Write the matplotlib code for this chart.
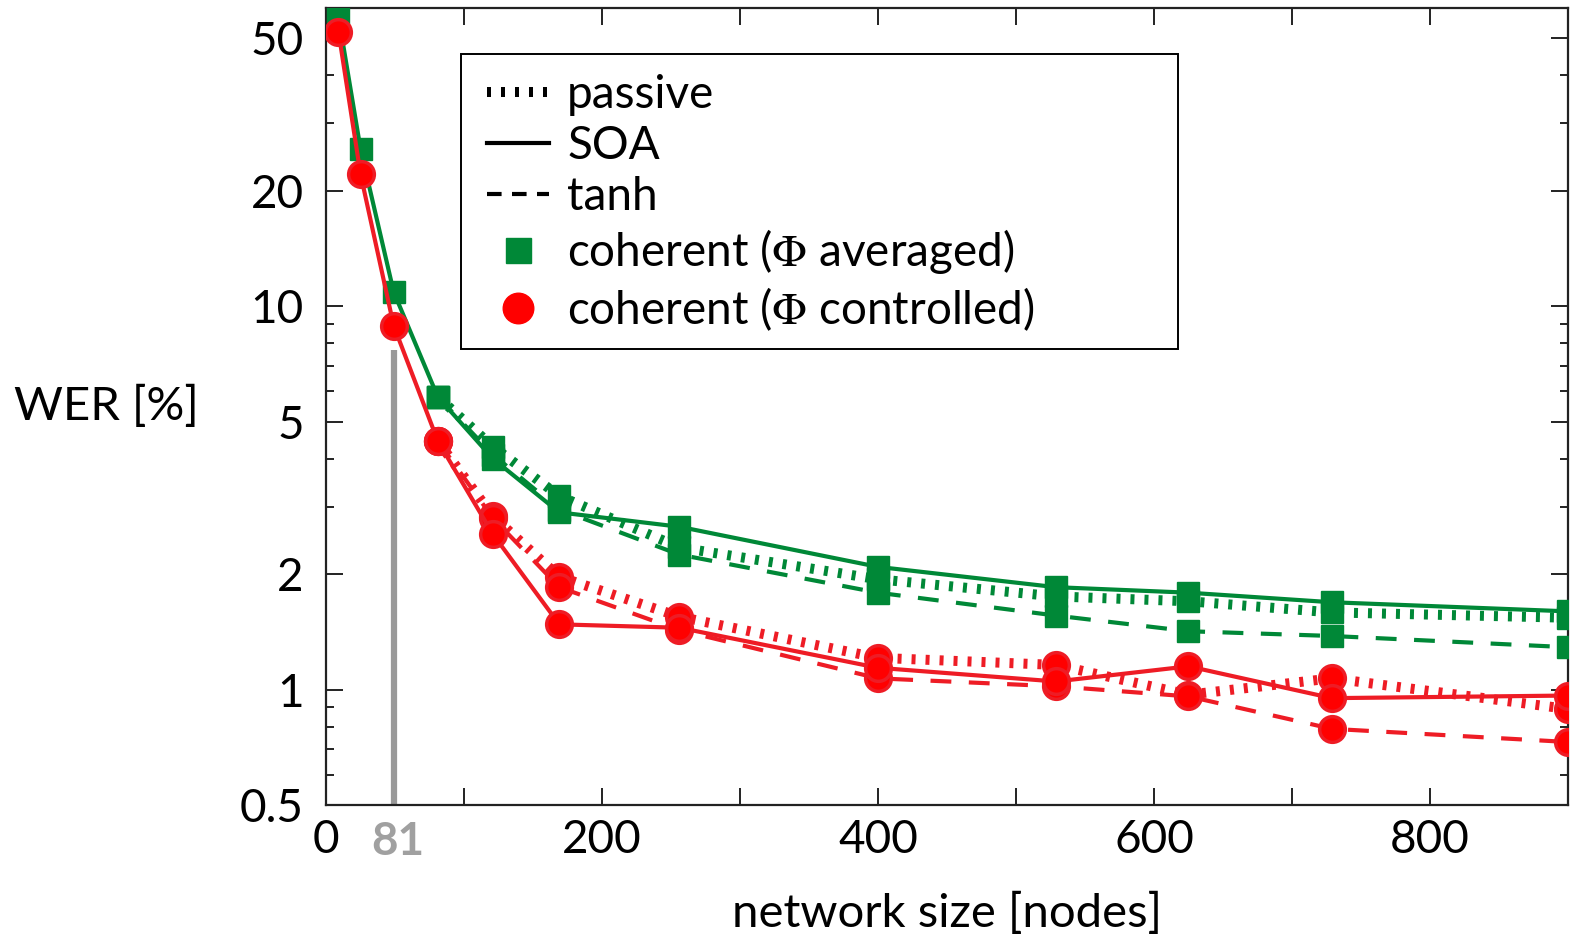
import numpy as np
import matplotlib.pyplot as plt
from matplotlib.lines import Line2D
from matplotlib.patches import Rectangle
from matplotlib.ticker import FixedLocator, NullFormatter

plt.rcParams['font.family'] = ['Lato', 'DejaVu Sans']
plt.rcParams['mathtext.fontset'] = 'stix'

# network sizes (nodes)
nodes = [9, 25, 49, 81, 121, 169, 256, 400, 529, 625, 729, 900]

# WER [%], coherent with phase averaged
avg_passive = [57, 25.7, 10.9, 5.8, 4.3, 3.2, 2.35, 1.94, 1.75, 1.70, 1.59, 1.54]
avg_soa = [57, 25.7, 10.9, 5.8, 4.0, 2.9, 2.66, 2.09, 1.85, 1.79, 1.69, 1.60]
avg_tanh = [57, 25.7, 10.9, 5.8, 4.1, 2.95, 2.25, 1.79, 1.56, 1.42, 1.38, 1.29]

# WER [%], coherent with phase controlled
ctl_passive = [52, 22.1, 8.9, 4.45, 2.83, 1.97, 1.55, 1.21, 1.16, 0.97, 1.07, 0.89]
ctl_soa = [52, 22.1, 8.9, 4.45, 2.54, 1.48, 1.45, 1.14, 1.05, 1.15, 0.95, 0.965]
ctl_tanh = [52, 22.1, 8.9, 4.45, 2.8, 1.85, 1.43, 1.07, 1.02, 0.96, 0.79, 0.73]

# the three nonlinearities coincide up to this point, only SOA is drawn there
split = 3

marked_size = 49
marked_label = "81"
marked_top = 7.7

yticks = [0.5, 1, 2, 5, 10, 20, 50]
ytick_labels = ["0.5", "1", "2", "5", "10", "20", "50"]
xticks = [0, 200, 400, 600, 800]

GREEN = '#008837'
RED = '#ee1c25'
RED_FILL = '#ff0000'
FS = 33

dotted = dict(ls=(0, (0.4, 1.0)), lw=7.2, dash_capstyle='butt')
solid = dict(ls='-', lw=3.0)
dashed = dict(ls=(0, (5, 4.2)), lw=3.0, dash_capstyle='butt')

fig = plt.figure(figsize=(15.79, 9.39), dpi=100)
ax = fig.add_axes([0.2065, 0.1427, 0.7865, 0.8488])

ax.plot([marked_size, marked_size], [0.5, marked_top], color='#999999', lw=4.5,
        solid_capstyle='butt', zorder=1)

sq = dict(marker='s', ms=16.5, mfc=GREEN, mec=GREEN, color=GREEN)
ci = dict(marker='o', ms=18.5, mfc=RED_FILL, mec=RED, mew=2.5, color=RED)

for ys, st in [(avg_passive, dotted), (avg_tanh, dashed)]:
    ax.plot(nodes[split:], ys[split:], **st, **sq, zorder=3)
ax.plot(nodes, avg_soa, **solid, **sq, zorder=3)
for ys, st in [(ctl_passive, dotted), (ctl_tanh, dashed)]:
    ax.plot(nodes[split:], ys[split:], **st, **ci, zorder=4)
ax.plot(nodes, ctl_soa, **solid, **ci, zorder=4)

ax.set_yscale('log')
ax.set_xlim(0, 900)
ax.set_ylim(0.5, 60)

ax.yaxis.set_major_locator(FixedLocator(yticks))
ax.set_yticklabels(ytick_labels)
minor_y = [v * d for d in (0.1, 1, 10) for v in range(1, 10)]
minor_y = [v for v in minor_y if 0.5 < v < 60 and round(v, 6) not in yticks]
ax.yaxis.set_minor_locator(FixedLocator(minor_y))
ax.yaxis.set_minor_formatter(NullFormatter())

ax.xaxis.set_major_locator(FixedLocator(xticks))
ax.xaxis.set_minor_locator(FixedLocator([100, 300, 500, 700, 900]))
ax.tick_params(which='both', direction='in', top=True, right=True,
               labelsize=FS, color='#222222', width=1.4)
ax.tick_params(which='major', length=12)
ax.tick_params(axis='y', which='major', pad=16)
ax.tick_params(axis='x', which='major', pad=10)
ax.tick_params(axis='x', which='minor', length=12)
ax.tick_params(axis='y', which='minor', length=6)
for s in ax.spines.values():
    s.set_linewidth(1.6)
    s.set_color('#222222')

ax.text(marked_size + 3, -0.02, marked_label, transform=ax.get_xaxis_transform(),
        ha='center', va='top', fontsize=FS, color='#a0a0a0', fontweight='bold')

ax.set_xlabel("network size [nodes]", fontsize=FS + 1, labelpad=22)
ax.set_ylabel("WER [%]", fontsize=FS + 1, rotation=0, ha='left', va='center')
ax.yaxis.set_label_coords(-0.251, 0.5)

handles = [
    Line2D([], [], color='black', ls=(0, (0.4, 1.0)), lw=7.2, dash_capstyle='butt'),
    Line2D([], [], color='black', ls='-', lw=3.0),
    Line2D([], [], color='black', ls=(0, (3.5, 2.5)), lw=3.0, dash_capstyle='butt'),
    Line2D([], [], ls='none', marker='s', ms=18, mfc=GREEN, mec=GREEN),
    Line2D([], [], ls='none', marker='o', ms=22, mfc=RED_FILL, mec=RED_FILL),
]
labels = ["passive", "SOA", "tanh",
          r"coherent ($\Phi$ averaged)", r"coherent ($\Phi$ controlled)"]
ax.legend(handles, labels, loc='upper left', bbox_to_anchor=(0.1295, 0.9175),
          borderaxespad=0, borderpad=0, fontsize=FS, handlelength=1.35,
          handletextpad=0.4, labelspacing=0.2, frameon=False)
ax.add_patch(Rectangle((0.1087, 0.572), 0.5773, 0.3703, transform=ax.transAxes,
                       fill=False, ec='black', lw=1.4, zorder=5))

fig.savefig('out.png', dpi=100)
